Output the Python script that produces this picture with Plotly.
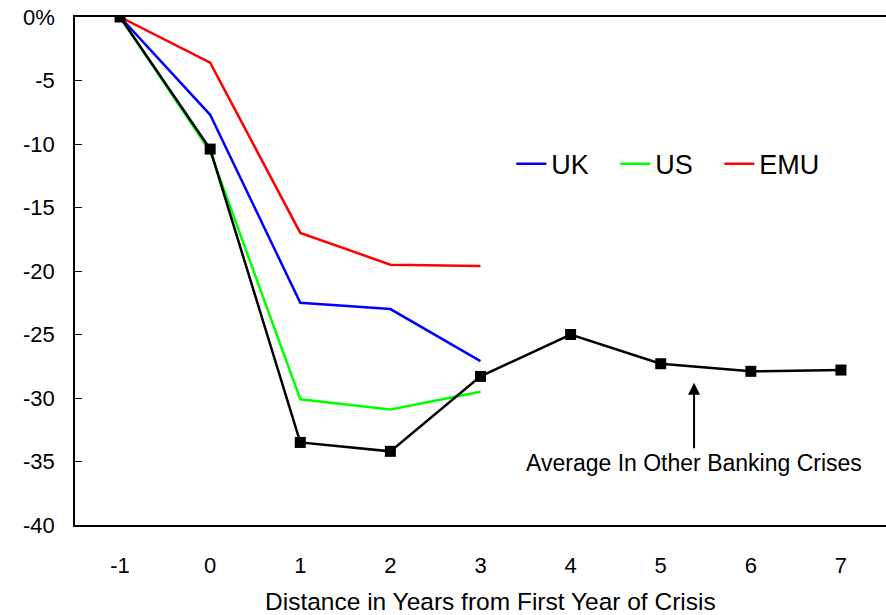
import plotly.graph_objects as go

years = [-1, 0, 1, 2, 3, 4, 5, 6, 7]
year_labels = ["-1", "0", "1", "2", "3", "4", "5", "6", "7"]
avg_other = [0, -10.4, -33.5, -34.2, -28.3, -25.0, -27.3, -27.9, -27.8]

crisis_years = [-1, 0, 1, 2, 3]
uk = [0, -7.7, -22.5, -23.0, -27.1]
us = [0, -10.6, -30.1, -30.9, -29.5]
emu = [0, -3.6, -17.0, -19.5, -19.6]

ytick_vals = [0, -5, -10, -15, -20, -25, -30, -35, -40]
ytick_text = ["0%", "-5", "-10", "-15", "-20", "-25", "-30", "-35", "-40"]

fig = go.Figure()

fig.add_trace(go.Scatter(x=crisis_years, y=uk, name="UK", mode="lines",
                         line=dict(color="#0000FF", width=2.5)))
fig.add_trace(go.Scatter(x=crisis_years, y=us, name="US", mode="lines",
                         line=dict(color="#00FF00", width=2.5)))
fig.add_trace(go.Scatter(x=crisis_years, y=emu, name="EMU", mode="lines",
                         line=dict(color="#FF0000", width=2.5)))
fig.add_trace(go.Scatter(x=years, y=avg_other, name="Average", mode="lines+markers",
                         showlegend=False,
                         line=dict(color="black", width=2.5),
                         marker=dict(symbol="square", size=11, color="black")))

# arrow + label for the black series
fig.add_annotation(x=5.37, y=-28.8, ax=5.37, ay=-35.1, axref="x", ayref="y",
                   text="Average In Other Banking Crises", showarrow=True,
                   arrowhead=2, arrowsize=1.2, arrowwidth=2, arrowcolor="black",
                   standoff=0, font=dict(size=23, color="black"))

# x axis title
fig.add_annotation(x=0.512, y=-0.151, xref="paper", yref="paper", showarrow=False,
                   text="Distance in Years from First Year of Crisis",
                   font=dict(size=24.5, color="black"), yanchor="middle")

fig.update_layout(
    width=886, height=615,
    margin=dict(l=75, r=0, t=17, b=90),
    paper_bgcolor="white", plot_bgcolor="white",
    font=dict(family="Liberation Sans, Arial", color="black"),
    legend=dict(orientation="h", x=0.538, y=0.71, xanchor="left", yanchor="middle",
                font=dict(size=27), entrywidth=59, bgcolor="rgba(0,0,0,0)"),
    xaxis=dict(range=[-1.5, 7.5], tickvals=years, ticktext=year_labels,
               showgrid=False, zeroline=False, automargin=False,
               showline=True, linecolor="black", linewidth=1.5, mirror=True,
               ticks="", tickfont=dict(size=22), ticklabelstandoff=20),
    yaxis=dict(range=[-40, 0], tickvals=ytick_vals, ticktext=ytick_text,
               showgrid=False, zeroline=False, showline=True, linecolor="black",
               automargin=False,
               linewidth=1.5, ticks="inside", ticklen=7, tickcolor="black",
               tickfont=dict(size=22), ticklabelstandoff=14),
)

# drop the default 8px page margin so the figure sits at the window corner
fig.write_html("out.html", config={"displayModeBar": False},
               post_script="document.body.style.margin='0px';")
